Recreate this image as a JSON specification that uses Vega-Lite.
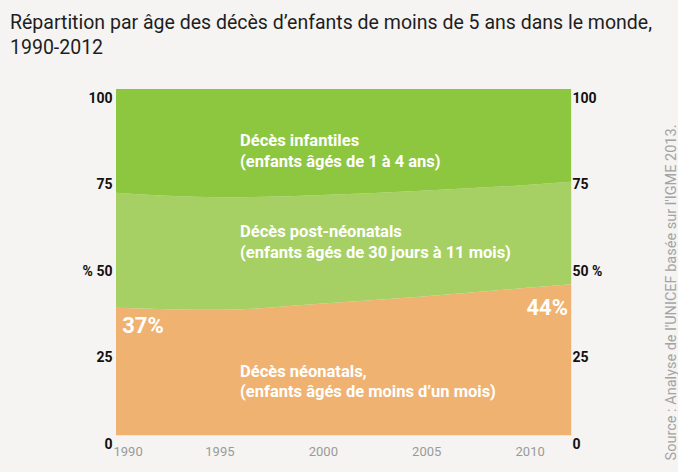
{
  "$schema": "https://vega.github.io/schema/vega-lite/v6.json",
  "width": 455,
  "height": 346,
  "autosize": {"type": "none"},
  "padding": {"left": 116, "top": 89, "right": 107, "bottom": 37},
  "background": "#f5f4f2",
  "config": {
    "view": {"stroke": "#e9e9e3", "strokeWidth": 1},
    "font": "Roboto"
  },
  "title": {
    "text": ["Répartition par âge des décès d’enfants de moins de 5 ans  dans le monde,", "1990-2012"],
    "anchor": "start",
    "frame": "group",
    "dx": -106,
    "offset": 31,
    "fontSize": 19.5,
    "fontWeight": "normal",
    "color": "#1e1e1e",
    "lineHeight": 25,
    "font": "Roboto"
  },
  "datasets": {
    "deaths": [
      {"year": 1990, "cat": "neo", "k": 1, "value": 36.8},
      {"year": 1995, "cat": "neo", "k": 1, "value": 36.2},
      {"year": 2000, "cat": "neo", "k": 1, "value": 38.0},
      {"year": 2005, "cat": "neo", "k": 1, "value": 40.1},
      {"year": 2010, "cat": "neo", "k": 1, "value": 42.6},
      {"year": 2012, "cat": "neo", "k": 1, "value": 43.6},
      {"year": 1990, "cat": "post", "k": 2, "value": 33.2},
      {"year": 1995, "cat": "post", "k": 2, "value": 32.5},
      {"year": 2000, "cat": "post", "k": 2, "value": 31.4},
      {"year": 2005, "cat": "post", "k": 2, "value": 30.6},
      {"year": 2010, "cat": "post", "k": 2, "value": 29.7},
      {"year": 2012, "cat": "post", "k": 2, "value": 29.6},
      {"year": 1990, "cat": "child", "k": 3, "value": 30.0},
      {"year": 1995, "cat": "child", "k": 3, "value": 31.3},
      {"year": 2000, "cat": "child", "k": 3, "value": 30.6},
      {"year": 2005, "cat": "child", "k": 3, "value": 29.3},
      {"year": 2010, "cat": "child", "k": 3, "value": 27.7},
      {"year": 2012, "cat": "child", "k": 3, "value": 26.8}
    ],
    "labels": [
      {"year": 1996, "pct": 83.6, "text": "Décès infantiles"},
      {"year": 1996, "pct": 77.6, "text": "(enfants âgés de 1 à 4 ans)"},
      {"year": 1996, "pct": 57.2, "text": "Décès post-néonatals"},
      {"year": 1996, "pct": 51.3, "text": "(enfants âgés de 30 jours à 11 mois)"},
      {"year": 1996, "pct": 16.9, "text": "Décès néonatals,"},
      {"year": 1996, "pct": 10.9, "text": "(enfants âgés de moins d’un mois)"}
    ],
    "pcts": [
      {"year": 1991.3, "pct": 29.6, "text": "37%"},
      {"year": 2010.85, "pct": 34.6, "text": "44%"}
    ]
  },
  "layer": [
    {
      "data": {"name": "deaths"},
      "mark": {"type": "area", "interpolate": "monotone"},
      "encoding": {
        "x": {
          "field": "year",
          "type": "quantitative",
          "scale": {"domain": [1990, 2012], "nice": false, "zero": false},
          "axis": {
            "title": null,
            "values": [1990, 1995, 2000, 2005, 2010],
            "format": "d",
            "grid": false,
            "domain": false,
            "ticks": false,
            "tickSize": 0,
            "labelPadding": 10,
            "labelFlush": true,
            "labelFlushOffset": 3,
            "labelFontSize": 13,
            "labelColor": "#9a9a9a",
            "labelFont": "Roboto"
          }
        },
        "y": {
          "field": "value",
          "type": "quantitative",
          "stack": "zero",
          "scale": {"domain": [0, 100], "nice": false},
          "axis": {
            "orient": "left",
            "title": null,
            "values": [0, 25, 50, 75, 100],
            "labelExpr": "datum.value == 50 ? '% 50' : datum.label",
            "grid": false,
            "domain": false,
            "ticks": false,
            "tickSize": 0,
            "labelPadding": 4,
            "labelOffset": 9,
            "labelFontSize": 14,
            "labelFontWeight": "bold",
            "labelColor": "#111111",
            "labelFont": "Roboto"
          }
        },
        "color": {
          "field": "cat",
          "type": "nominal",
          "scale": {"domain": ["neo", "post", "child"], "range": ["#f0b270", "#a6d063", "#8dc63f"]},
          "legend": null
        },
        "order": {"field": "k", "type": "quantitative"}
      }
    },
    {
      "data": {"name": "labels"},
      "mark": {"type": "text", "align": "left", "baseline": "alphabetic", "color": "#ffffff", "fontSize": 16.5, "fontWeight": "bold", "font": "Roboto"},
      "encoding": {
        "x": {"field": "year", "type": "quantitative", "title": null},
        "y": {
          "field": "pct",
          "type": "quantitative",
          "scale": {"domain": [0, 100], "nice": false},
          "axis": {
            "orient": "right",
            "title": "Source : Analyse de l'UNICEF basée sur l'IGME 2013.",
            "titleAngle": 270,
            "titleX": 104,
            "titleY": 203,
            "titleAlign": "center",
            "titleBaseline": "alphabetic",
            "titleFontSize": 14.5,
            "titleFontWeight": "normal",
            "titleColor": "#a3a3a3",
            "titleFont": "Roboto",
            "values": [0, 25, 50, 75, 100],
            "labelExpr": "datum.value == 50 ? '50 %' : datum.label",
            "grid": false,
            "domain": false,
            "ticks": false,
            "tickSize": 0,
            "labelPadding": 1,
            "labelOffset": 9,
            "labelFontSize": 14,
            "labelFontWeight": "bold",
            "labelColor": "#111111",
            "labelFont": "Roboto"
          }
        },
        "text": {"field": "text", "type": "nominal"}
      }
    },
    {
      "data": {"name": "pcts"},
      "mark": {"type": "text", "align": "center", "baseline": "alphabetic", "color": "#ffffff", "fontSize": 22, "fontWeight": "bold", "font": "Roboto"},
      "encoding": {
        "x": {"field": "year", "type": "quantitative", "title": null},
        "y": {"field": "pct", "type": "quantitative", "scale": {"domain": [0, 100], "nice": false}, "axis": null},
        "text": {"field": "text", "type": "nominal"}
      }
    }
  ],
  "resolve": {"axis": {"y": "independent"}}
}
